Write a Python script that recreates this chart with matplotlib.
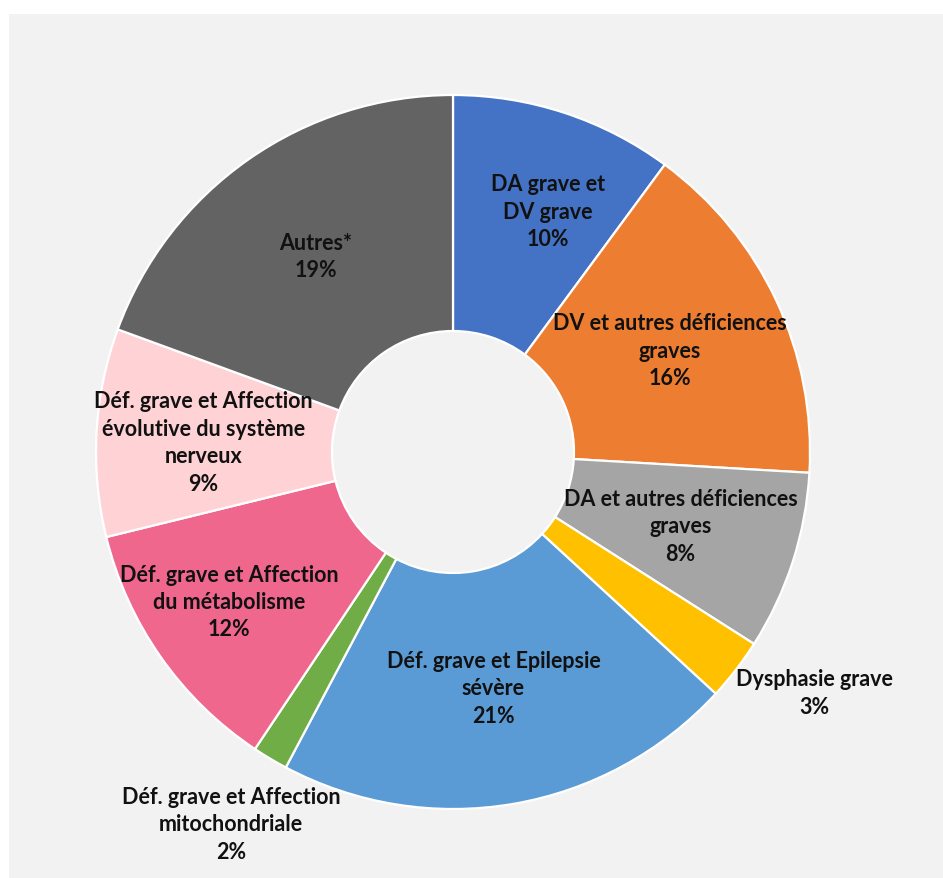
import numpy as np
import matplotlib.pyplot as plt
from matplotlib.patches import Rectangle

labels = [
    "DA grave et\nDV grave",
    "DV et autres déficiences\ngraves",
    "DA et autres déficiences\ngraves",
    "Dysphasie grave",
    "Déf. grave et Epilepsie\nsévère",
    "Déf. grave et Affection\nmitochondriale",
    "Déf. grave et Affection\ndu métabolisme",
    "Déf. grave et Affection\névolutive du système\nnerveux",
    "Autres*",
]
# shares in % (labels show them rounded)
values = [10.1, 15.8, 8.1, 2.8, 20.9, 1.6, 11.8, 9.4, 19.4]
colors = ["#4472C4", "#ED7D31", "#A5A5A5", "#FFC000", "#5B9BD5",
          "#70AD47", "#F0678E", "#FFD3D6", "#636363"]
# label radius as a fraction of the outer radius (Excel labels were moved by hand for some)
label_r = [0.725, 0.67, 0.67, 1.216, 0.67, 1.213, 0.754, 0.70, 0.67]
label_dang = [-3.3, 0, 0, 3.9, 0, 0, -1.3, 0.9, 0]

W, H = 943, 879
fig = plt.figure(figsize=(W / 100, H / 100), dpi=100)
ax = fig.add_axes([0, 0, 1, 1])

# background panel
ax.add_patch(Rectangle((9, 0), W - 9, H - 15, facecolor="#F2F2F2", edgecolor="none", zorder=0))

cx, cy = 453, H - 453
R = 357
r_in = 121

wedges, _ = ax.pie(values, colors=colors, startangle=90, counterclock=False,
                   center=(cx, cy), radius=R, frame=True,
                   wedgeprops=dict(width=R - r_in, edgecolor="white", linewidth=1.6))
ax.set_xlim(0, W)
ax.set_ylim(0, H)
ax.set_aspect("equal")
ax.axis("off")

for w, lab, v, fr, da in zip(wedges, labels, values, label_r, label_dang):
    ang = np.deg2rad((w.theta1 + w.theta2) / 2 + da)
    x = cx + fr * R * np.cos(ang)
    y = cy + fr * R * np.sin(ang)
    ax.text(x, y, f"{lab}\n{v:.0f}%", ha="center", va="center", fontsize=15.5,
            fontweight="bold", family=["Lato", "DejaVu Sans"], color="#111111",
            linespacing=1.38)

fig.savefig("out.png", dpi=100)
